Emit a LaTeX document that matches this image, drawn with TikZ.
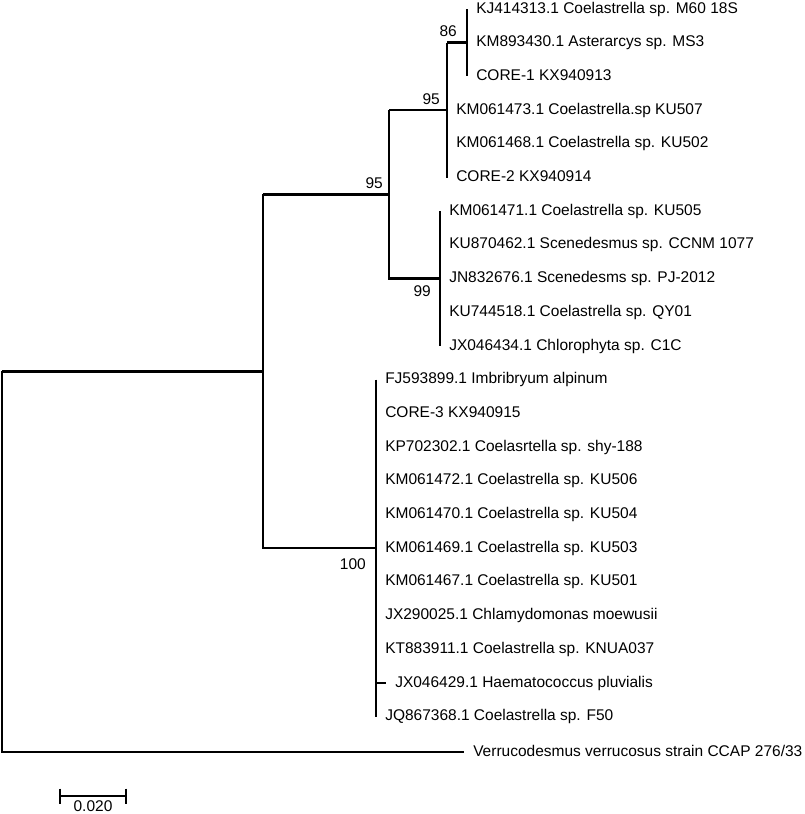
\documentclass[tikz,border=0pt]{standalone}
\usepackage{fontspec}
\setmainfont{Liberation Sans}
\usetikzlibrary{positioning}

\begin{document}
\begin{tikzpicture}[x=1pt, y=-1pt, line width=2.5pt,
    taxon/.style={anchor=base west, inner sep=0pt, xshift=8pt, yshift=-4pt,
                  font=\fontsize{15.5}{18}\selectfont},
    bootup/.style={anchor=base east, inner sep=0pt, xshift=-6pt, yshift=6pt,
                   font=\fontsize{15.5}{18}\selectfont},
    bootdown/.style={anchor=base east, inner sep=0pt, xshift=-8pt, yshift=-18pt,
                     font=\fontsize{15.5}{18}\selectfont}]
  \useasboundingbox (0,0) rectangle (805,814);

  % inner nodes of the tree
  \coordinate (root) at (2, 561.7);
  \coordinate (nA) at (263, 371.3);
  \coordinate (n95b) at (389, 194.3);
  \coordinate (n95a) at (447, 110.1);
  \coordinate (n86) at (467, 42.7);
  \coordinate (n99) at (440, 278.6);
  \coordinate (n100) at (376, 548.2);

  % tips
  \coordinate (t0) at (467, 9);
  \coordinate (t1) at (467, 42.7);
  \coordinate (t2) at (467, 76.4);
  \coordinate (t3) at (447, 110.1);
  \coordinate (t4) at (447, 143.8);
  \coordinate (t5) at (447, 177.5);
  \coordinate (t6) at (440, 211.2);
  \coordinate (t7) at (440, 244.9);
  \coordinate (t8) at (440, 278.6);
  \coordinate (t9) at (440, 312.3);
  \coordinate (t10) at (440, 346);
  \coordinate (t11) at (376, 379.7);
  \coordinate (t12) at (376, 413.4);
  \coordinate (t13) at (376, 447.1);
  \coordinate (t14) at (376, 480.8);
  \coordinate (t15) at (376, 514.5);
  \coordinate (t16) at (376, 548.2);
  \coordinate (t17) at (376, 581.9);
  \coordinate (t18) at (376, 615.6);
  \coordinate (t19) at (376, 649.3);
  \coordinate (t20) at (386, 683);
  \coordinate (t21) at (376, 716.7);
  \coordinate (tout) at (464, 752);

  % taxon names
  \node[taxon] (l0) at (t0) {KJ414313.1 Coelastrella sp. M60 18S};
  \node[taxon] (l1) at (t1) {KM893430.1 Asterarcys sp. MS3};
  \node[taxon] (l2) at (t2) {CORE-1 KX940913};
  \node[taxon] (l3) at (t3) {KM061473.1 Coelastrella.sp KU507};
  \node[taxon] (l4) at (t4) {KM061468.1 Coelastrella sp. KU502};
  \node[taxon] (l5) at (t5) {CORE-2 KX940914};
  \node[taxon] (l6) at (t6) {KM061471.1 Coelastrella sp. KU505};
  \node[taxon] (l7) at (t7) {KU870462.1 Scenedesmus sp. CCNM 1077};
  \node[taxon] (l8) at (t8) {JN832676.1 Scenedesms sp. PJ-2012};
  \node[taxon] (l9) at (t9) {KU744518.1 Coelastrella sp. QY01};
  \node[taxon] (l10) at (t10) {JX046434.1 Chlorophyta sp. C1C};
  \node[taxon] (l11) at (t11) {FJ593899.1 Imbribryum alpinum};
  \node[taxon] (l12) at (t12) {CORE-3 KX940915};
  \node[taxon] (l13) at (t13) {KP702302.1 Coelasrtella sp. shy-188};
  \node[taxon] (l14) at (t14) {KM061472.1 Coelastrella sp. KU506};
  \node[taxon] (l15) at (t15) {KM061470.1 Coelastrella sp. KU504};
  \node[taxon] (l16) at (t16) {KM061469.1 Coelastrella sp. KU503};
  \node[taxon] (l17) at (t17) {KM061467.1 Coelastrella sp. KU501};
  \node[taxon] (l18) at (t18) {JX290025.1 Chlamydomonas moewusii};
  \node[taxon] (l19) at (t19) {KT883911.1 Coelastrella sp. KNUA037};
  \node[taxon] (l20) at (t20) {JX046429.1 Haematococcus pluvialis};
  \node[taxon] (l21) at (t21) {JQ867368.1 Coelastrella sp. F50};
  \node[taxon] (lout) at (tout) {Verrucodesmus verrucosus strain CCAP 276/33};

  % branches
  \draw (root |- nA) -- (nA)
        (root |- nA) -- (root |- tout) -- (tout);
  \draw (nA |- n95b) -- (n95b)
        (nA |- n95b) -- (nA |- n100) -- (n100);
  \draw (n95b |- n95a) -- (n95a)
        (n95b |- n95a) -- (n95b |- n99) -- (n99);
  \draw (n95a |- n86) -- (n86)
        (n95a |- n86) -- (n95a |- t5);
  \draw (n86 |- t0) -- (n86 |- t2);
  \draw (n99 |- t6) -- (n99 |- t10);
  \draw (n100 |- t11) -- (n100 |- t21)
        (n100 |- t20) -- (t20);

  % bootstrap values
  \node[bootup, xshift=-3pt] (b86) at (n86) {86};
  \node[bootup] (b95a) at (n95a) {95};
  \node[bootup, xshift=1pt] (b95b) at (n95b) {95};
  \node[bootdown] (b99) at (n99) {99};
  \node[bootdown, yshift=-3pt, xshift=-1pt] (b100) at (n100) {100};

  % scale
  \coordinate (sb1) at (60, 796);
  \coordinate (sb2) at (126, 796);
  \coordinate (sbmid) at (93, 796);
  \draw (sb1) -- (sb2)
        ([yshift=7.5pt]sb1) -- ([yshift=-7.5pt]sb1)
        ([yshift=7.5pt]sb2) -- ([yshift=-7.5pt]sb2);
  \node[anchor=base, inner sep=0pt, yshift=-15pt,
        font=\fontsize{15.5}{18}\selectfont] (sblabel) at (sbmid) {0.020};
\end{tikzpicture}
\end{document}
